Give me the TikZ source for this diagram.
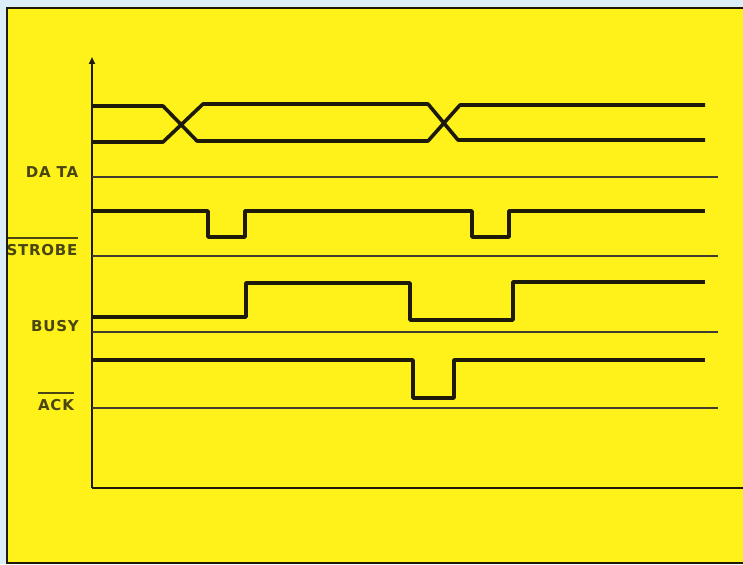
\documentclass[tikz,border=0pt]{standalone}
\usepackage{fontspec}
\newfontfamily\plotfont[LetterSpace=5]{DejaVu Sans}
\usetikzlibrary{arrows.meta,positioning}
\definecolor{sheet}{HTML}{FFF21A}
\definecolor{paper}{HTML}{DCEEF7}
\definecolor{ink}{HTML}{1E1A0A}
\definecolor{labelink}{HTML}{4A4612}

\begin{document}
\begin{tikzpicture}[
    x=1pt, y=-1pt,
    signal/.style={draw=ink, line width=3.6pt, line join=round},
    baseline/.style={draw=ink!85, line width=1.5pt},
    siglabel/.style={font=\plotfont\bfseries\fontsize{15}{15}\selectfont, text=labelink, inner sep=0pt},
    bar/.style={draw=labelink, line width=1.8pt},
    arrow/.style={-{Triangle[length=7pt,width=6pt]}},
]

% Sheet
\useasboundingbox (0,0) rectangle (743,564);
\fill[paper] (0,0) rectangle (743,564);
\fill[sheet] (7,8) rectangle (743,563);

% Axes
\coordinate (origin) at (92,488);
\coordinate (ytop) at (92,57);
\coordinate (xend) at (743,488);
\draw[ink, line width=1.8pt, arrow] (origin) -- (ytop);
\draw[ink, line width=1.8pt] (origin) -- (xend);

% Baselines
\foreach \y in {177,256,332,408}
    \draw[baseline] (92,\y) -- (718,\y);

% DATA
\draw[signal] (92,106) -- (163,106) -- (197,141) -- (428,141) -- (460,105) -- (705,105);
\draw[signal] (92,142) -- (163,142) -- (203,104) -- (428,104) -- (458,140) -- (705,140);

% STROBE
\draw[signal] (92,211) -- (208,211) -- (208,237) -- (245,237) -- (245,211)
    -- (472,211) -- (472,237) -- (509,237) -- (509,211) -- (705,211);

% BUSY
\draw[signal] (92,317) -- (246,317) -- (246,283) -- (410,283) -- (410,320)
    -- (513,320) -- (513,282) -- (705,282);

% ACK
\draw[signal] (92,360) -- (413,360) -- (413,398) -- (454,398) -- (454,360) -- (705,360);

% Labels
\node[siglabel] (data) at (52,172) {DA TA};
\node[siglabel] (strobe) at (42,250) {STROBE};
\node[siglabel] (busy) at (55,326) {BUSY};
\node[siglabel] (ack) at (56,405) {ACK};
\draw[bar] ([yshift=6pt]strobe.north west) -- ([yshift=6pt]strobe.north east);
\draw[bar] ([yshift=6pt]ack.north west) -- ([yshift=6pt]ack.north east);

% Frame
\draw[ink, line width=2.4pt] (743,8) -- (7,8) -- (7,563) -- (743,563);

\end{tikzpicture}
\end{document}
